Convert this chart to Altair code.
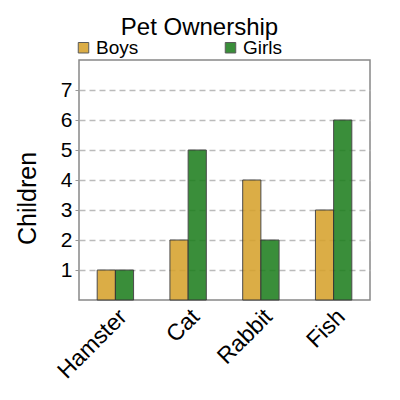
import altair as alt
import pandas as pd

pets = ["Hamster", "Cat", "Rabbit", "Fish"]
boys = [1, 2, 4, 3]
girls = [1, 5, 2, 6]
groups = ["Boys", "Girls"]
colors = ["#d7a22d", "#1f7f1f"]
y_ticks = [1, 2, 3, 4, 5, 6, 7]

rows = []
for p, b, g in zip(pets, boys, girls):
    rows.append({"pet": p, "group": "Boys", "count": b})
    rows.append({"pet": p, "group": "Girls", "count": g})
df = pd.DataFrame(rows)

FONT = "Liberation Sans"

chart = alt.Chart(df).mark_bar(
    stroke="#333333", strokeWidth=1, opacity=0.88
).encode(
    x=alt.X("pet:N", sort=pets, title=None,
            scale=alt.Scale(paddingInner=0.5, paddingOuter=0.25),
            axis=alt.Axis(labelAngle=-45, labelFontSize=23, labelFont=FONT,
                          labelColor="#000000", ticks=False, domain=False,
                          labelPadding=5, grid=False)),
    xOffset=alt.XOffset("group:N", sort=groups, scale=alt.Scale(paddingInner=0, paddingOuter=0)),
    y=alt.Y("count:Q", title="Children",
            scale=alt.Scale(domain=[0, 8], nice=False),
            axis=alt.Axis(values=y_ticks, labelFontSize=21, labelFont=FONT,
                          labelColor="#000000", titleFontSize=25, titleFont=FONT,
                          titleFontWeight="normal", titleColor="#000000",
                          titlePadding=20, titleY=138, tickSize=4, tickColor="#999999",
                          labelPadding=3, domain=False, grid=True,
                          gridColor="#bbbbbb", gridDash=[6, 4], gridWidth=1.5)),
    color=alt.Color("group:N", sort=groups,
                    scale=alt.Scale(domain=groups, range=colors),
                    legend=alt.Legend(title=None, orient="none", legendX=-5, legendY=-22,
                                      direction="horizontal", columns=2, columnPadding=82,
                                      symbolType="square", symbolSize=110,
                                      symbolStrokeColor="#444444", symbolStrokeWidth=1,
                                      labelFontSize=19, labelFont=FONT, labelColor="#000000",
                                      labelOffset=3)),
).properties(
    width=291, height=240,
    title=alt.TitleParams("Pet Ownership", fontSize=24, font=FONT, fontWeight="normal",
                          color="#000000", anchor="middle", offset=0, dy=2, dx=-25),
    autosize=alt.AutoSizeParams(type="none"),
    padding={"left": 71, "top": 52, "right": 22, "bottom": 92},
).configure_view(
    stroke="#888888", strokeWidth=1.5
)

chart.save("out.html", embed_options={"renderer": "svg", "actions": False})
